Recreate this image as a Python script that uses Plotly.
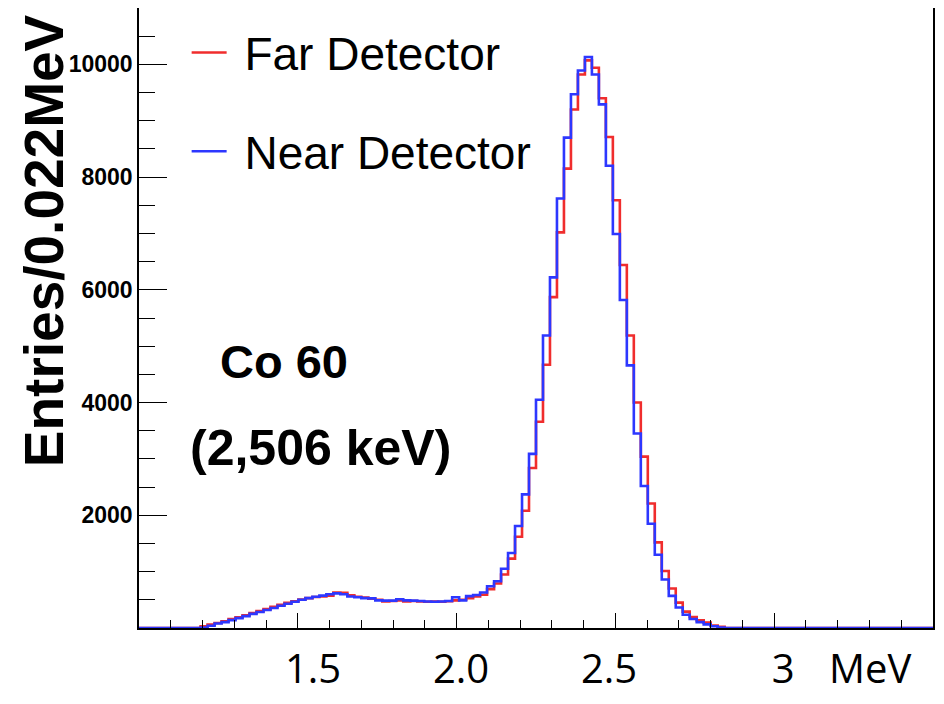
import numpy as np
import plotly.graph_objects as go

# histogram binning (MeV)
bin_width = 0.022
first_edge = 1.194
x_min, x_max = 1.0, 3.5

near = [10, 40, 80, 105, 140, 175, 210, 250, 285, 320,
        355, 395, 430, 465, 500, 530, 555, 575, 600, 615,
        600, 560, 545, 530, 525, 490, 485, 485, 510, 490,
        485, 480, 470, 465, 470, 480, 545, 490, 565, 585,
        630, 740, 830, 1050, 1330, 1810, 2370, 3090, 4050, 5190,
        6220, 7620, 8700, 9470, 9890, 10130, 9820, 9290, 8200, 6990,
        5820, 4660, 3450, 2520, 1850, 1300, 860, 570, 365, 235,
        160, 105, 65, 30, 10]

far = [30, 60, 90, 120, 160, 190, 225, 265, 300, 335,
       375, 410, 445, 475, 505, 530, 550, 560, 575, 630,
       625, 580, 555, 540, 520, 500, 470, 480, 490, 470,
       480, 470, 465, 470, 465, 475, 490, 500, 530, 560,
       590, 690, 790, 950, 1230, 1620, 2080, 2840, 3660, 4670,
       5870, 7020, 8150, 9200, 9820, 10070, 9940, 9400, 8710, 7590,
       6440, 5190, 4000, 3040, 2210, 1520, 1010, 700, 450, 290,
       195, 135, 95, 45, 20]

# big energy labels pasted under the frame (not exactly on the ticks)
x_label_pos = [1.548, 2.014, 2.48, 3.028, 3.302]
x_label_text = ["1.5", "2.0", "2.5", "3", "MeV"]
y_tickvals = [2000, 4000, 6000, 8000, 10000]
y_ticktext = ["2000", "4000", "6000", "8000", "10000"]

series = [("Far Detector", far, "rgb(240,45,45)"),
          ("Near Detector", near, "rgb(45,55,255)")]


def steps(counts):
    edges = first_edge + bin_width * np.arange(len(counts) + 1)
    xs = np.concatenate([[x_min], edges, [x_max]])
    ys = np.concatenate([[0], counts, [0, 0]])
    return xs, ys


fig = go.Figure()
for i, (name, counts, color) in enumerate(series):
    xs, ys = steps(counts)
    fig.add_trace(go.Scatter(
        x=xs, y=ys, name="\u00a0" + name, mode="lines",
        line=dict(color=color, width=2.6, shape="hv"),
        legendgroup="g%d" % i,
    ))
# empty trace so the label axis gets drawn
fig.add_trace(go.Scatter(x=[None], y=[None], xaxis="x2", showlegend=False,
                         hoverinfo="skip"))

# the page body keeps its default 8px margin, so the figure is 8px smaller
fig.update_layout(
    width=936, height=696,
    margin=dict(l=131, r=11, t=0, b=76),
    paper_bgcolor="white", plot_bgcolor="white",
    font=dict(family="Liberation Sans, Arial", color="black"),
    showlegend=True,
    legend=dict(
        x=0.06, y=0.987, xanchor="left", yanchor="top",
        font=dict(size=46, family="Liberation Sans, Arial"),
        bgcolor="rgba(0,0,0,0)", traceorder="grouped",
        tracegroupgap=36, itemwidth=35,
    ),
    xaxis=dict(
        range=[x_min, x_max], showgrid=False, zeroline=False, automargin=False,
        showline=True, linecolor="black", linewidth=1.5, mirror=True,
        tickmode="linear", tick0=1.0, dtick=0.5, showticklabels=False,
        ticks="inside", ticklen=15, tickcolor="black", tickwidth=1.2,
        minor=dict(tickmode="linear", tick0=1.0, dtick=0.1, ticks="inside",
                   ticklen=8, tickcolor="black", tickwidth=1.2),
    ),
    xaxis2=dict(
        overlaying="x", side="bottom", anchor="y",
        range=[x_min, x_max], showgrid=False, zeroline=False, automargin=False,
        showline=False, ticks="",
        tickmode="array", tickvals=x_label_pos, ticktext=x_label_text,
        tickfont=dict(size=40, family="Open Sans"),
        ticklabelstandoff=14,
    ),
    yaxis=dict(
        range=[0, 11000], showgrid=False, zeroline=False, automargin=False,
        showline=True, linecolor="black", linewidth=1.5, mirror=True,
        tickmode="array", tickvals=y_tickvals, ticktext=y_ticktext,
        ticks="inside", ticklen=28, tickcolor="black", tickwidth=1.2,
        minor=dict(tickmode="linear", tick0=0, dtick=500, ticks="inside",
                   ticklen=16, tickcolor="black", tickwidth=1.2),
        tickfont=dict(size=23, family="Liberation Sans, Arial", weight="bold"),
    ),
)

fig.add_annotation(
    text="<b>Entries/0.022MeV</b>", textangle=-90,
    xref="paper", yref="paper", x=-0.12, y=0.625,
    xanchor="center", yanchor="middle", showarrow=False,
    font=dict(size=55, family="Liberation Sans, Arial"),
)
fig.add_annotation(
    text="<b>Co 60</b>", xref="paper", yref="paper", x=0.183, y=0.43,
    xanchor="center", yanchor="middle", showarrow=False,
    font=dict(size=47, family="Liberation Sans, Arial"),
)
fig.add_annotation(
    text="<b>(2,506 keV)</b>", xref="paper", yref="paper", x=0.229, y=0.29,
    xanchor="center", yanchor="middle", showarrow=False,
    font=dict(size=50, family="Liberation Sans, Arial"),
)

fig.write_html("out.html")
